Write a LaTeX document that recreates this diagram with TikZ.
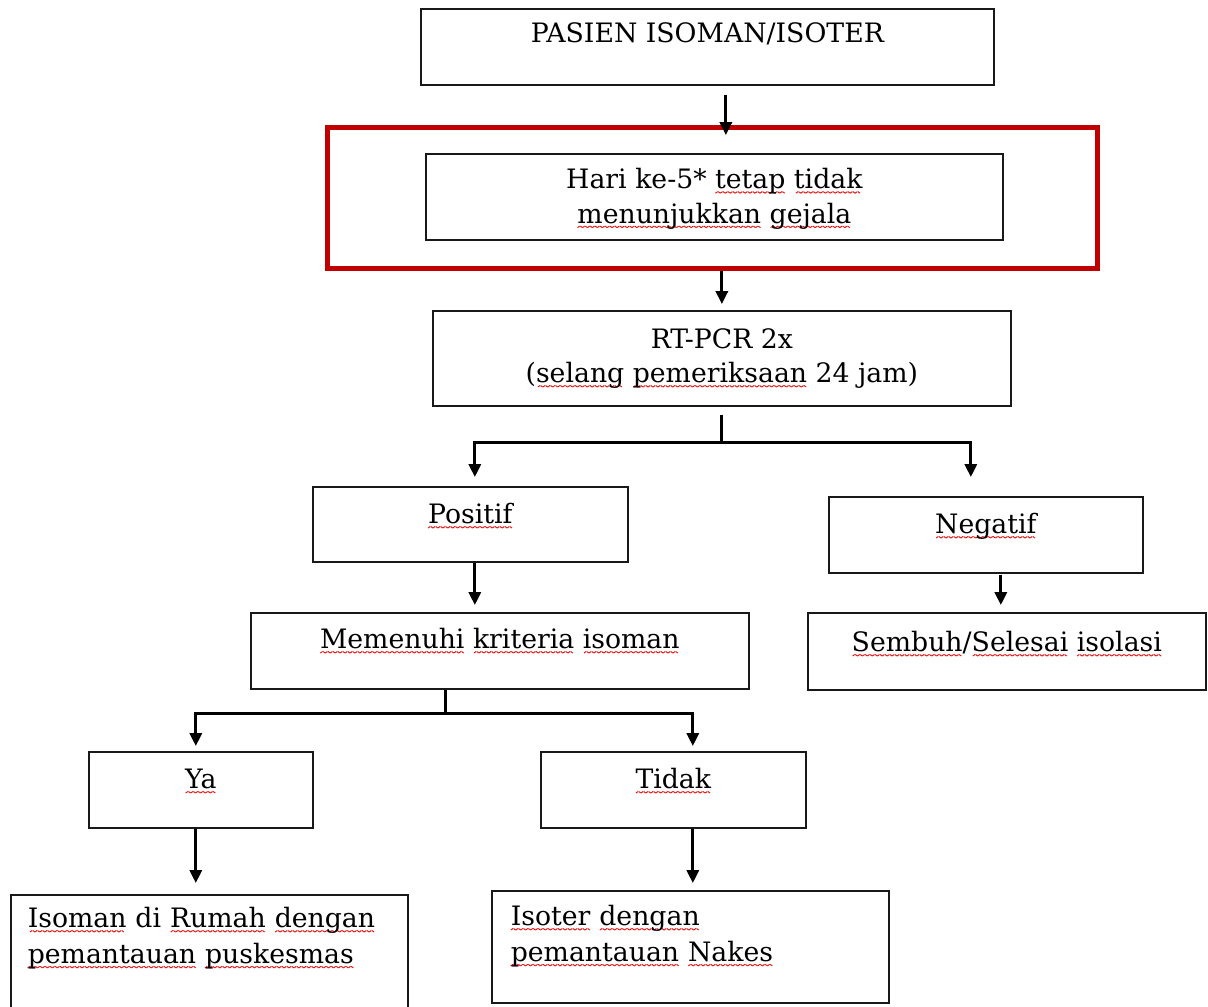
\documentclass[tikz,border=0pt]{standalone}
\usepackage{fontspec}
\setmainfont{DejaVu Serif}
\usepackage{graphicx}
\usetikzlibrary{arrows.meta}

\definecolor{merah}{RGB}{192,0,0}
\definecolor{ejaan}{RGB}{235,20,20}
% garis bergelombang merah di bawah kata
\newsavebox\ombak
\newcommand\salah[1]{\leavevmode\setbox0=\hbox{#1}\rlap{\lower3.3pt\hbox to\wd0{\cleaders\copy\ombak\hfil}}\box0\relax}

\begin{document}
\sbox\ombak{\kern-0.4pt\rotatebox{35}{\textcolor{ejaan}{\rule{1.9pt}{0.7pt}}}\raisebox{1.09pt}{\rotatebox{-35}{\textcolor{ejaan}{\rule{1.9pt}{0.7pt}}}}}
\begin{tikzpicture}[x=0.025cm, y=-0.025cm,
  kotak/.style={draw=black!90, line width=1.1pt, anchor=north west, inner ysep=0pt,
    align=center, font=\fontsize{19}{24.5}\selectfont},
  kiri/.style={kotak, align=left, font=\fontsize{19}{25.5}\selectfont},
  bingkai/.style={draw=merah, line width=3.5pt, anchor=north west, inner sep=0pt},
  garis/.style={line width=2pt},
  panah/.style={line width=2pt, -{Triangle[width=0.3cm,length=0.32cm]}}]

  \clip (0,0) rectangle (1208,1006);

  \node[kotak, minimum width=14.325cm, text height=0.85cm, text depth=1.05cm] (pasien) at (420,8) {PASIEN ISOMAN/ISOTER};
  \node[bingkai, minimum width=19.25cm, minimum height=3.525cm] (merah) at (325,125) {};
  \node[kotak, minimum width=14.425cm, text height=1.74cm, text depth=0.41cm] (hari) at (425,153)
    {Hari ke-5* \salah{tetap} \salah{tidak}\\ \salah{menunjukkan} \salah{gejala}};
  \node[kotak, minimum width=14.45cm, text height=1.8cm, text depth=0.575cm] (rtpcr) at (432,310)
    {RT-PCR 2x\\ (\salah{selang} \salah{pemeriksaan} 24 jam)};

  \node[kotak, minimum width=7.875cm, text height=0.925cm, text depth=0.95cm] (positif) at (312,486) {\salah{Positif}};
  \node[kotak, minimum width=7.85cm, text height=0.925cm, text depth=0.975cm] (negatif) at (828,496) {\salah{Negatif}};
  \node[kotak, minimum width=12.45cm, text height=0.9cm, text depth=1cm] (memenuhi) at (250,612)
    {\salah{Memenuhi} \salah{kriteria} \salah{isoman}};
  \node[kotak, minimum width=9.95cm, text height=0.975cm, text depth=0.95cm] (sembuh) at (807,612)
    {\salah{Sembuh}/\salah{Selesai} \salah{isolasi}};

  \node[kotak, minimum width=5.6cm, text height=0.925cm, text depth=0.975cm] (ya) at (88,751) {\salah{Ya}};
  \node[kotak, minimum width=6.625cm, text height=0.925cm, text depth=0.975cm] (tidak) at (540,751) {\salah{Tidak}};

  \node[kiri, inner xsep=0.425cm, text width=9.075cm, text height=0.825cm, text depth=2.425cm] (isoman) at (10,894)
    {\salah{Isoman} di \salah{Rumah} \salah{dengan}\\ \salah{pemantauan} \salah{puskesmas}};
  \node[kiri, inner xsep=0.475cm, text width=8.975cm, text height=0.875cm, text depth=1.925cm] (isoter) at (491,890)
    {\salah{Isoter} \salah{dengan}\\ \salah{pemantauan} \salah{Nakes}};

  \coordinate (cab1) at ([yshift=-0.9cm]rtpcr.south);
  \coordinate (cab2) at ([xshift=-1.35cm,yshift=-0.6cm]memenuhi.south);

  \draw[panah, shorten <=0.225cm, shorten >=0.45cm] ([xshift=0.4625cm]pasien.south) -- ([xshift=0.4625cm]pasien.south |- hari.north);
  \draw[panah, shorten >=0.15cm] (merah.south -| rtpcr.north) -- (rtpcr.north);

  \draw[garis, shorten <=0.2cm] (rtpcr.south) -- (cab1);
  \draw[panah, shorten >=0.225cm] (cab1) -| ([xshift=0.1125cm]positif.north);
  \draw[panah, shorten >=0.475cm] (cab1) -| ([xshift=-0.375cm]negatif.north);

  \draw[panah, shorten >=0.175cm] ([xshift=0.1125cm]positif.south) -- ([xshift=0.1125cm]positif.south |- memenuhi.north);
  \draw[panah, shorten <=0.025cm, shorten >=0.175cm] ([xshift=0.375cm]negatif.south) -- ([xshift=0.375cm]negatif.south |- sembuh.north);

  \draw[garis] ([xshift=-1.35cm]memenuhi.south) -- (cab2);
  \draw[panah, shorten >=0.125cm] (cab2) -| ([xshift=-0.125cm]ya.north);
  \draw[panah, shorten >=0.125cm] (cab2) -| ([xshift=0.4875cm]tidak.north);

  \draw[panah, shorten >=0.275cm] ([xshift=-0.125cm]ya.south) -- ([xshift=-0.125cm]ya.south |- isoman.north);
  \draw[panah, shorten >=0.175cm] ([xshift=0.4875cm]tidak.south) -- ([xshift=0.4875cm]tidak.south |- isoter.north);
\end{tikzpicture}
\end{document}
